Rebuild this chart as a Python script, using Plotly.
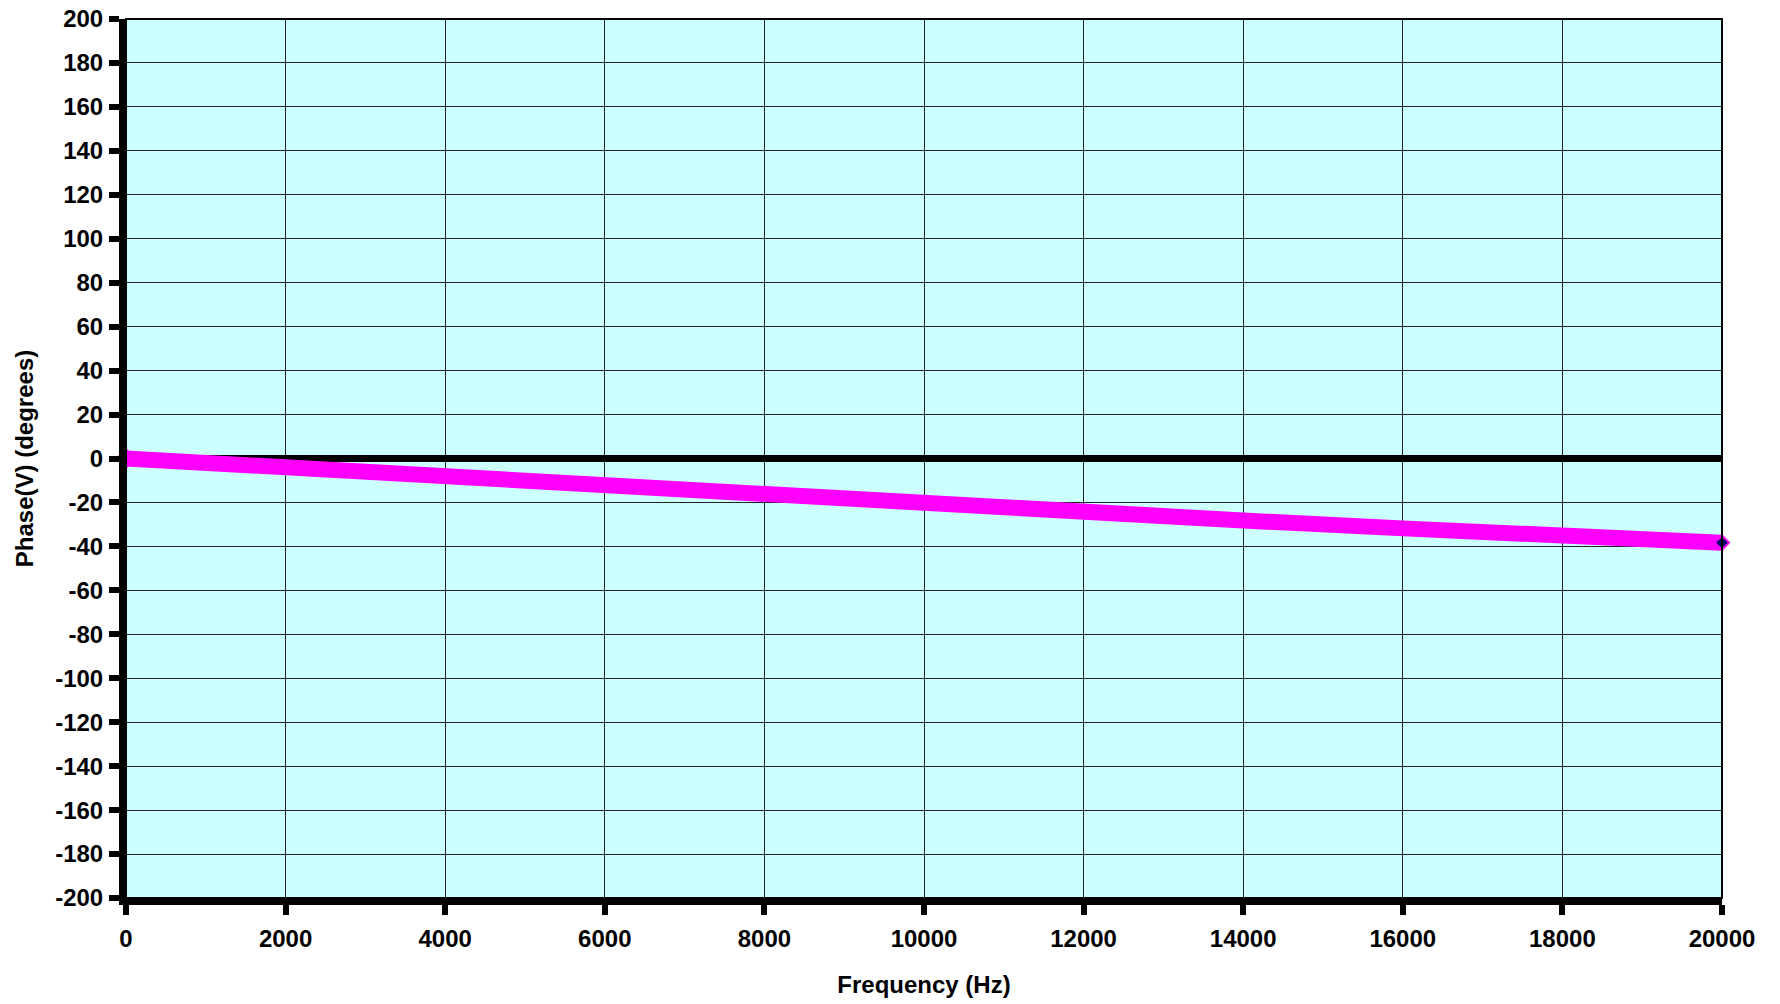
import plotly.graph_objects as go

# Data
freq_hz = [0, 2000, 4000, 6000, 8000, 10000, 12000, 14000, 16000, 18000, 20000]
phase_deg = [0.0, -4.2, -8.6, -12.9, -17.1, -21.1, -24.6, -28.2, -31.8, -35.4, -38.3]

x_ticks = list(range(0, 20001, 2000))
x_tick_text = [str(v) for v in x_ticks]
y_ticks = list(range(-200, 201, 20))
y_tick_text = [str(v) for v in y_ticks]

FONT = "Liberation Sans, Arial, sans-serif"

fig = go.Figure()
fig.add_trace(go.Scatter(
    x=freq_hz, y=phase_deg, mode="lines",
    line=dict(color="#FF00FF", width=16),
    showlegend=False, hoverinfo="x+y",
))
# end-point markers
fig.add_trace(go.Scatter(
    x=[freq_hz[0]], y=[phase_deg[0]], mode="markers",
    marker=dict(symbol="diamond", size=14, color="#FF00FF",
                line=dict(color="#FF00FF", width=2)),
    cliponaxis=False, showlegend=False,
))
fig.add_trace(go.Scatter(
    x=[freq_hz[-1]], y=[phase_deg[-1]], mode="markers",
    marker=dict(symbol="diamond", size=11, color="#000066",
                line=dict(color="#FF00FF", width=2)),
    cliponaxis=False, showlegend=False,
))

fig.update_layout(
    width=1780, height=1004,
    margin=dict(l=126, r=58, t=19, b=106, autoexpand=False),
    paper_bgcolor="white",
    plot_bgcolor="#CCFFFF",
    font=dict(family=FONT, size=24, color="black"),
    xaxis=dict(
        range=[0, 20000], tickvals=x_ticks, ticktext=x_tick_text,
        automargin=False,
        showgrid=True, gridcolor="#222222", gridwidth=1,
        showline=True, linecolor="black", linewidth=7,
        ticks="outside", ticklen=10, tickwidth=6, tickcolor="black",
        ticklabelstandoff=3, ticklabeloverflow="allow",
        tickfont=dict(family=FONT, size=24, color="black", weight="bold"),
        title=dict(text="<b>Frequency (Hz)</b>", standoff=28,
                   font=dict(family=FONT, size=24, color="black")),
        zeroline=False,
    ),
    yaxis=dict(
        range=[-200, 200], tickvals=y_ticks, ticktext=y_tick_text,
        automargin=False,
        showgrid=True, gridcolor="#222222", gridwidth=1,
        showline=True, linecolor="black", linewidth=7,
        ticks="outside", ticklen=10, tickwidth=6, tickcolor="black",
        ticklabelstandoff=1, ticklabeloverflow="allow",
        tickfont=dict(family=FONT, size=24, color="black", weight="bold"),
        title=dict(text="<b>Phase(V) (degrees)</b>", standoff=17,
                   font=dict(family=FONT, size=24, color="black")),
        zeroline=True, zerolinecolor="black", zerolinewidth=7,
    ),
    shapes=[dict(type="rect", xref="paper", yref="paper", x0=0, x1=1, y0=0, y1=1,
                 line=dict(color="black", width=2), layer="above")],
)

fig.write_html("out.html",
               config={"displayModeBar": False},
               post_script="document.body.style.margin='0';document.body.style.padding='0';")
